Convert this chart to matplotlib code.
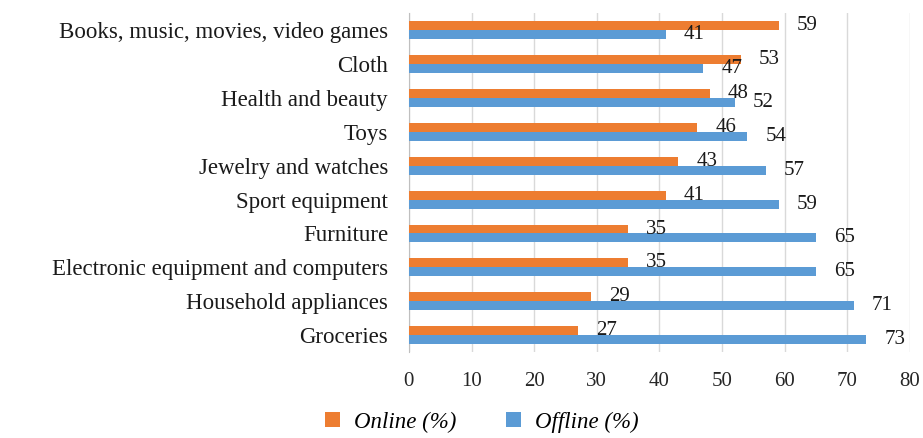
import matplotlib
matplotlib.use('Agg')
import matplotlib.pyplot as plt
import numpy as np

categories = [
    'Books, music, movies, video games',
    'Cloth',
    'Health and beauty',
    'Toys',
    'Jewelry and watches',
    'Sport equipment',
    'Furniture',
    'Electronic equipment and computers',
    'Household appliances',
    'Groceries',
]
online = [59, 53, 48, 46, 43, 41, 35, 35, 29, 27]
offline = [41, 47, 52, 54, 57, 59, 65, 65, 71, 73]
x_ticks = [0, 10, 20, 30, 40, 50, 60, 70, 80]

ORANGE = '#ED7D31'
BLUE = '#5B9BD5'

plt.rcParams['font.family'] = ['Liberation Serif', 'DejaVu Serif']

fig = plt.figure(figsize=(9.23, 4.38), dpi=100)
ax = fig.add_axes([0.443, 0.196, 0.543, 0.774])

n = len(categories)
y = np.arange(n)[::-1]
h = 0.265

bars_on = ax.barh(y + h / 2, online, height=h, color=ORANGE, label='Online (%)', zorder=3)
bars_off = ax.barh(y - h / 2, offline, height=h, color=BLUE, label='Offline (%)', zorder=3)

for bars, vals in ((bars_on, online), (bars_off, offline)):
    for b, v in zip(bars, vals):
        ax.annotate(str(v), (b.get_width(), b.get_y() + b.get_height() / 2),
                    xytext=(13, 0), textcoords='offset points',
                    ha='left', va='center', fontsize=15, color='#1a1a1a')

ax.set_xlim(0, 80)
ax.set_ylim(-0.5, n - 0.5)
ax.set_xticks(x_ticks)
ax.set_xticklabels([str(t) for t in x_ticks], fontsize=15, color='#262626')
ax.set_yticks(y)
ax.set_yticklabels(categories, fontsize=16.5, color='#1a1a1a')
ax.tick_params(length=0, pad=15)
ax.tick_params(axis='x', pad=14)
ax.grid(True, axis='x', color='#D9D9D9', linewidth=1.0, zorder=0)
for side in ('top', 'right', 'bottom'):
    ax.spines[side].set_visible(False)
ax.spines['left'].set_color('#BFBFBF')

fig.legend(loc='lower center', bbox_to_anchor=(0.522, -0.035), ncol=2, frameon=False,
           prop={'style': 'italic', 'size': 16.5}, handlelength=0.65, handleheight=0.65,
           columnspacing=2.2, handletextpad=0.6)

fig.savefig('out.png', dpi=100)
